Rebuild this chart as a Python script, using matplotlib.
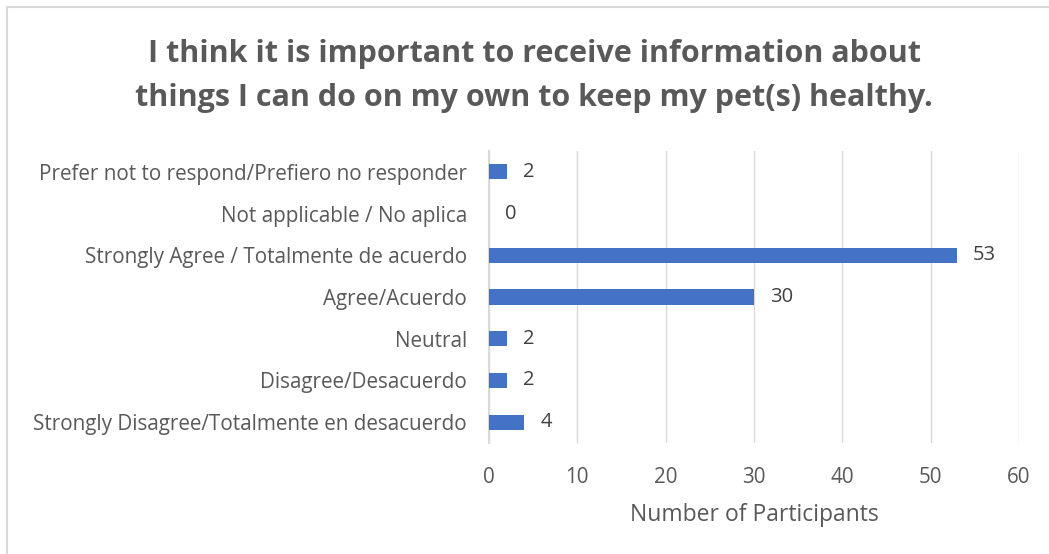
import matplotlib
matplotlib.use("Agg")
import matplotlib.pyplot as plt
from matplotlib.patches import Rectangle

categories = [
    "Strongly Disagree/Totalmente en desacuerdo",
    "Disagree/Desacuerdo",
    "Neutral",
    "Agree/Acuerdo",
    "Strongly Agree / Totalmente de acuerdo",
    "Not applicable / No aplica",
    "Prefer not to respond/Prefiero no responder",
]
counts = [4, 2, 2, 30, 53, 0, 2]
x_ticks = [0, 10, 20, 30, 40, 50, 60]
title = ("I think it is important to receive information about\n"
         "things I can do on my own to keep my pet(s) healthy.")
x_label = "Number of Participants"

plt.rcParams["font.family"] = ["Open Sans", "DejaVu Sans"]
text_grey = "#595959"
bar_blue = "#4472C4"
grid_grey = "#D9D9D9"

fig = plt.figure(figsize=(10.49, 5.54), dpi=100)
fig.patches.append(Rectangle((7 / 1049, -0.1), 1.2, (554 - 7) / 554 + 0.1,
                             transform=fig.transFigure, fill=False,
                             edgecolor="#D9D9D9", linewidth=1.5))

ax = fig.add_axes([489 / 1049, 1 - 443 / 554, 530 / 1049, 292 / 554])
y = list(range(len(categories)))
ax.barh(y, counts, height=0.36, color=bar_blue, zorder=3)
for yi, v in zip(y, counts):
    ax.text(v + 1.8, yi, str(v), va="center", ha="left",
            fontsize=14.5, color="#404040")

ax.set_xlim(0, 60)
ax.set_ylim(-0.5, len(categories) - 0.5)
ax.set_xticks(x_ticks)
ax.set_xticklabels([str(t) for t in x_ticks])
ax.set_yticks(y)
ax.set_yticklabels(categories)
ax.tick_params(axis="both", length=0, labelsize=14.9, labelcolor=text_grey)
ax.tick_params(axis="x", pad=17)
ax.tick_params(axis="y", pad=16)
ax.grid(axis="x", color=grid_grey, linewidth=1, zorder=0)
for s in ["top", "right", "bottom"]:
    ax.spines[s].set_visible(False)
ax.spines["left"].set_color(grid_grey)
ax.spines["left"].set_linewidth(1.5)
ax.set_xlabel(x_label, fontsize=16.5, color=text_grey, labelpad=11)

fig.text(534 / 1049, 1 - 76 / 554, title, ha="center", va="center",
         fontsize=22, fontweight="bold", color=text_grey, linespacing=1.6)

fig.savefig("out.png", dpi=100)
